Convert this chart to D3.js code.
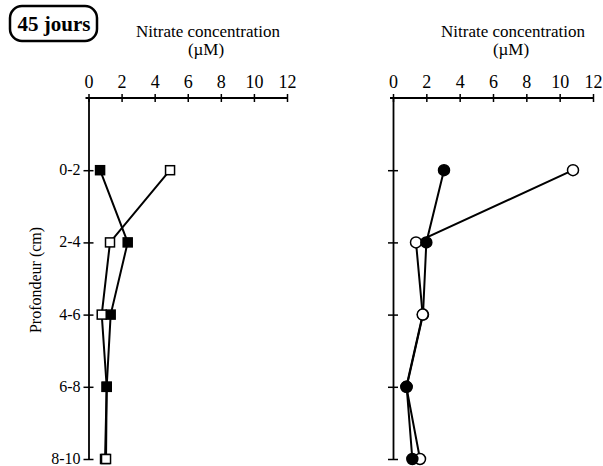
<html>
  <head>
    <meta charset="utf-8">
    <title>Nitrate 45 jours</title>
    <script src="https://cdnjs.cloudflare.com/ajax/libs/d3/7.8.5/d3.min.js"></script>
    <style>
      body { margin: 0; background: white; }
      text { font-family: "Liberation Serif", "DejaVu Serif", serif; fill: black; }
    </style>
  </head>
  <body>
    <script>
      // data
      var depthLabels = ["0-2", "2-4", "4-6", "6-8", "8-10"];
      var depthTicks = [2, 4, 6, 8, 10];
      var xTicks = [0, 2, 4, 6, 8, 10, 12];
      var leftFilled = [0.7, 2.37, 1.34, 1.1, 1.0];
      var leftOpen = [4.93, 1.3, 0.8, 1.1, 1.06];
      var rightFilled = [3.06, 2.0, 1.8, 0.82, 1.16];
      var rightOpen = [10.8, 1.38, 1.78, 0.8, 1.62];

      var width = 603, height = 466;
      var axisTop = 98, axisBottom = 459;

      var svg = d3.select("body").append("svg")
        .attr("width", width)
        .attr("height", height);

      var yScale = d3.scaleLinear().domain([0, 10]).range([axisTop, axisBottom]);

      // title box
      svg.append("rect")
        .attr("x", 10).attr("y", 6)
        .attr("width", 87).attr("height", 35)
        .attr("rx", 12)
        .attr("fill", "none")
        .attr("stroke", "black")
        .attr("stroke-width", 2.5);
      svg.append("text")
        .attr("x", 54).attr("y", 31)
        .attr("text-anchor", "middle")
        .style("font-size", "21px")
        .style("font-weight", "bold")
        .text("45 jours");

      // y axis title
      svg.append("text")
        .attr("transform", "translate(41,280) rotate(-90)")
        .attr("text-anchor", "middle")
        .style("font-size", "16px")
        .text("Profondeur (cm)");

      function panel(x0, x1, titleX, showLabels) {
        var xScale = d3.scaleLinear().domain([0, 12]).range([x0, x1]);

        svg.append("text")
          .attr("x", titleX).attr("y", 37)
          .attr("text-anchor", "middle")
          .style("font-size", "17px")
          .text("Nitrate concentration");
        svg.append("text")
          .attr("x", titleX - 2).attr("y", 55)
          .attr("text-anchor", "middle")
          .style("font-size", "17px")
          .text("(\u00b5M)");

        // top axis
        var gx = svg.append("g")
          .attr("transform", "translate(0," + axisTop + ")")
          .call(d3.axisTop(xScale).tickValues(xTicks).tickSize(4).tickSizeOuter(0).tickPadding(6));
        gx.select(".domain").attr("d", "M" + (x0 - 3) + ",0H" + x1).attr("stroke-width", 1.8);
        gx.selectAll(".tick line").attr("y1", 4).attr("stroke-width", 1.5);
        gx.selectAll(".tick text").style("font-size", "18px").attr("font-family", null);

        // left axis
        var gy = svg.append("g")
          .attr("transform", "translate(" + x0 + ",0)")
          .call(d3.axisLeft(yScale).tickValues(depthTicks).tickSize(5).tickSizeOuter(0).tickPadding(3)
            .tickFormat(function(d, i) { return showLabels ? depthLabels[i] : ""; }));
        gy.select(".domain").attr("stroke-width", 1.8);
        gy.selectAll(".tick line").attr("x1", 5).attr("stroke-width", 1.5);
        gy.selectAll(".tick text").style("font-size", "16px").attr("dy", "0.28em").attr("font-family", null);

        return xScale;
      }

      function drawLine(xScale, s) {
        var line = d3.line()
          .x(function(d) { return xScale(d); })
          .y(function(d, i) { return yScale(depthTicks[i]); });
        svg.append("path")
          .datum(s)
          .attr("d", line)
          .attr("fill", "none")
          .attr("stroke", "black")
          .attr("stroke-width", 2);
      }

      function squares(g, xScale, s, fill) {
        return g.selectAll(null).data(s).enter().append("rect")
          .attr("x", function(d) { return xScale(d) - 4.5; })
          .attr("y", function(d, i) { return yScale(depthTicks[i]) - 4.5; })
          .attr("width", 9).attr("height", 9)
          .attr("fill", fill).attr("stroke", "black").attr("stroke-width", 1.5);
      }

      function circles(g, xScale, s, fill) {
        return g.selectAll(null).data(s).enter().append("circle")
          .attr("cx", function(d) { return xScale(d); })
          .attr("cy", function(d, i) { return yScale(depthTicks[i]); })
          .attr("r", 5.5)
          .attr("fill", fill).attr("stroke", "black").attr("stroke-width", 1.5);
      }

      // left panel: squares
      var xl = panel(88.5, 287, 208, true);
      drawLine(xl, leftFilled);
      drawLine(xl, leftOpen);
      var gl = svg.append("g");
      var lf = squares(gl, xl, leftFilled, "black");
      squares(gl, xl, leftOpen, "white");
      // filled square sits on top at 6-8
      lf.filter(function(d, i) { return i === 3; }).raise();

      // right panel: circles
      var xr = panel(393, 593, 513, false);
      drawLine(xr, rightFilled);
      drawLine(xr, rightOpen);
      var gr = svg.append("g");
      var ro = circles(gr, xr, rightOpen, "white");
      circles(gr, xr, rightFilled, "black");
      // open circle on top at 4-6
      ro.filter(function(d, i) { return i === 2; }).raise();
    </script>
  </body>
</html>
